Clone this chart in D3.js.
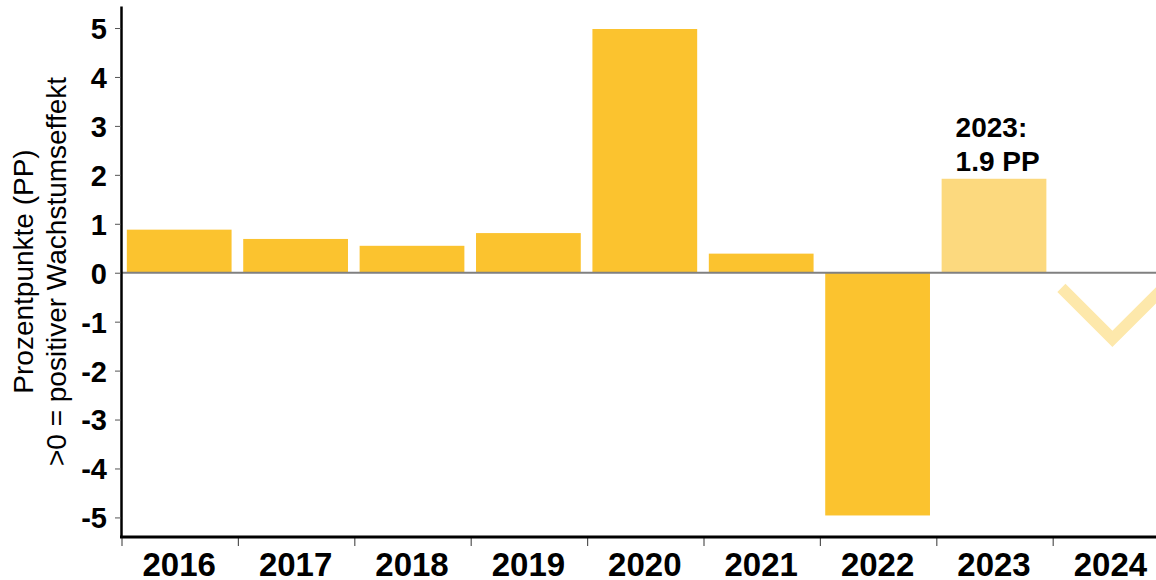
<!DOCTYPE html>
<html>
<head>
<meta charset="utf-8">
<script src="https://cdn.jsdelivr.net/npm/d3@7"></script>
<style>
    body { margin: 0; background: #fff; }
    svg { display: block; font-family: "Liberation Sans", Arial, sans-serif; }
</style>
</head>
<body>
<svg id="chart_svg"></svg>
<script>
// data
var years = ['2016', '2017', '2018', '2019', '2020', '2021', '2022', '2023', '2024'];
var values = [0.88, 0.69, 0.55, 0.81, 4.98, 0.39, -4.96, 1.92, null];
var yTicks = [-5, -4, -3, -2, -1, 0, 1, 2, 3, 4, 5];
var titleLines = ['Prozentpunkte (PP)', '>0 = positiver Wachstumseffekt'];
var noteLines = ['2023:', '1.9 PP'];
var arrowYear = '2024';
var arrowFrom = -0.31, arrowTo = -1.35; // chevron top and tip, in PP

var frameW = 1156,
    frameH = 580,
    plotLeft = 121,
    plotTop = 6,
    plotBottom = 537;

var svg = d3.select('svg#chart_svg')
    .attr('width', frameW)
    .attr('height', frameH);

var x = d3.scaleBand()
    .domain(years)
    .range([plotLeft, plotLeft + 116.4 * years.length])
    .paddingInner(0.1)
    .paddingOuter(0.05);

var y = d3.scaleLinear()
    .domain([-5.4, 5.45])
    .range([plotBottom, plotTop]);

// bars
svg.selectAll('rect.bar')
    .data(years.filter(function (d, i) { return values[i] !== null; }))
    .enter()
    .append('rect')
    .attr('class', 'bar')
    .attr('x', function (d) { return x(d); })
    .attr('width', x.bandwidth())
    .attr('y', function (d) { var v = values[years.indexOf(d)]; return y(Math.max(0, v)); })
    .attr('height', function (d) { var v = values[years.indexOf(d)]; return Math.abs(y(v) - y(0)); })
    .attr('fill', function (d) { return d === '2023' ? '#fcd97e' : '#fbc32f'; });

// 2024 chevron
var cx = x(arrowYear) + x.bandwidth() / 2 + 2,
    half = 51;
svg.append('path')
    .attr('d', d3.line()([[cx - half, y(arrowFrom)], [cx, y(arrowTo)], [cx + half, y(arrowFrom)]]))
    .attr('fill', 'none')
    .attr('stroke', '#fde8ab')
    .attr('stroke-width', 11.5)
    .attr('stroke-linejoin', 'miter');

// zero line
svg.append('line')
    .attr('x1', plotLeft).attr('x2', frameW)
    .attr('y1', y(0)).attr('y2', y(0))
    .attr('stroke', '#808080')
    .attr('stroke-width', 2);

// y axis
var yAxis = svg.append('g')
    .attr('transform', 'translate(' + plotLeft + ',0)')
    .call(d3.axisLeft(y)
        .tickValues(yTicks)
        .tickFormat(function (d) { return String(d); }) // plain hyphen, like the original
        .tickSize(6).tickSizeOuter(0).tickPadding(8));
yAxis.select('.domain').attr('stroke', '#000').attr('stroke-width', 2.5);
yAxis.selectAll('.tick line').attr('stroke', '#555').attr('stroke-width', 1);
yAxis.selectAll('.tick text')
    .attr('font-size', 29)
    .attr('font-weight', 'bold')
    .attr('fill', '#000')
    .attr('font-family', '"Liberation Sans", Arial, sans-serif')
    .attr('dy', '0.36em');

// x axis
var xAxis = svg.append('g')
    .attr('transform', 'translate(0,' + plotBottom + ')')
    .call(d3.axisBottom(x).tickSize(0).tickPadding(39));
xAxis.select('.domain').remove();
xAxis.selectAll('.tick text')
    .attr('font-size', 33)
    .attr('font-weight', 'bold')
    .attr('fill', '#000')
    .attr('font-family', '"Liberation Sans", Arial, sans-serif')
    .attr('dy', 0);
xAxis.selectAll('line.sep')
    .data(years)
    .enter()
    .append('line')
    .attr('class', 'sep')
    .attr('x1', function (d) { return x(d) - x.step() * x.paddingOuter() + 1; })
    .attr('x2', function (d) { return x(d) - x.step() * x.paddingOuter() + 1; })
    .attr('y1', 0).attr('y2', 9)
    .attr('stroke', '#555')
    .attr('stroke-width', 1.2);
xAxis.append('line')
    .attr('x1', plotLeft - 1).attr('x2', frameW)
    .attr('y1', 0).attr('y2', 0)
    .attr('stroke', '#000')
    .attr('stroke-width', 3);

// y title
var title = svg.append('text')
    .attr('transform', 'translate(33,' + ((plotTop + plotBottom) / 2) + ') rotate(-90)')
    .attr('text-anchor', 'middle')
    .attr('font-size', 28)
    .attr('fill', '#000');
title.selectAll('tspan')
    .data(titleLines)
    .enter()
    .append('tspan')
    .attr('x', 0)
    .attr('y', function (d, i) { return i * 33; })
    .text(function (d) { return d; });

// annotation for 2023
var note = svg.append('text')
    .attr('font-size', 28)
    .attr('font-weight', 'bold')
    .attr('fill', '#000');
note.selectAll('tspan')
    .data(noteLines)
    .enter()
    .append('tspan')
    .attr('x', x('2023') + 14)
    .attr('y', function (d, i) { return y(values[7]) - 8 - (noteLines.length - 1 - i) * 34; })
    .text(function (d) { return d; });
</script>
</body>
</html>
